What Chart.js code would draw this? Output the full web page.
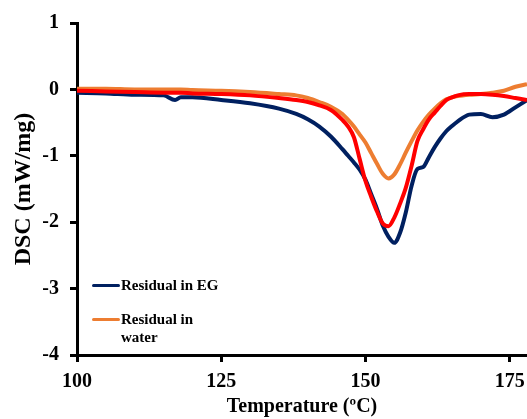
<!DOCTYPE html>
<html>
<head>
<meta charset="utf-8">
<script src="https://cdn.jsdelivr.net/npm/chart.js@4/dist/chart.umd.min.js"></script>
<style>
  html, body { margin: 0; padding: 0; background: #fff; }
  .wrap { position: relative; width: 527px; height: 419px; }
  .legend { position: absolute; left: 92px; top: 276px; margin: 0; padding: 0; list-style: none;
    font: bold 15px "Liberation Serif", serif; color: #000; }
  .legend li { display: flex; align-items: flex-start; margin-bottom: 16px; line-height: 18px; }
  .legend__color { display: inline-block; width: 28px; height: 3px; border-radius: 2px; margin-top: 8px; margin-right: 1px; }
</style>
</head>
<body>
<div class="wrap">
  <canvas id="myChart" width="527" height="419"></canvas>
  <ul class="legend" id="chart_legend"></ul>
</div>
<script>
const temperature = [100, 105, 110, 115, 117, 118, 120, 125, 130, 135, 138, 140, 142, 144, 146, 147, 148, 149,
  150, 151, 152, 153, 154, 155, 156, 157, 158, 159, 160, 161, 162, 163, 164, 165, 166, 168, 170, 172, 174, 176, 178];

const residualEG = [-0.05, -0.06, -0.08, -0.09, -0.16, -0.12, -0.12, -0.16, -0.21, -0.29, -0.37, -0.45, -0.56, -0.71,
  -0.90, -1.00, -1.10, -1.21, -1.36, -1.58, -1.80, -2.05, -2.22, -2.31, -2.16, -1.85, -1.45, -1.20, -1.17, -1.02,
  -0.87, -0.74, -0.63, -0.55, -0.48, -0.38, -0.37, -0.42, -0.38, -0.27, -0.16];

const residualWater = [0.01, 0.01, 0.0, 0.0, 0.0, 0.0, -0.01, -0.02, -0.04, -0.07, -0.09, -0.13, -0.19, -0.26,
  -0.37, -0.46, -0.56, -0.68, -0.80, -0.96, -1.12, -1.27, -1.34, -1.28, -1.13, -0.95, -0.78, -0.62, -0.49, -0.38,
  -0.29, -0.21, -0.15, -0.12, -0.10, -0.08, -0.07, -0.05, -0.02, 0.04, 0.08];

const residualRed = [-0.02, -0.03, -0.04, -0.05, -0.05, -0.05, -0.06, -0.07, -0.09, -0.13, -0.16, -0.19, -0.24, -0.31,
  -0.46, -0.56, -0.72, -1.05, -1.38, -1.62, -1.84, -2.02, -2.06, -1.93, -1.72, -1.48, -1.15, -0.78, -0.60, -0.45,
  -0.35, -0.25, -0.16, -0.12, -0.09, -0.07, -0.07, -0.08, -0.10, -0.13, -0.16];

const xTicks = [100, 125, 150, 175];
const yTicks = [1, 0, -1, -2, -3, -4];

const legendLabels = ["Residual in EG", "Residual in<br>water"];
const legendColors = ["#002060", "#ED7D31"];

const toPoints = (ys) => temperature.map((t, i) => ({ x: t, y: ys[i] }));

const serif = "'Liberation Serif', serif";
const tickFont = { family: serif, weight: "bold", size: 20 };

function initChart() {
  const ctx = document.getElementById("myChart").getContext("2d");

  const line = (label, data, color, order) => ({
    label,
    data: toPoints(data),
    borderColor: color,
    backgroundColor: color,
    borderWidth: 4,
    pointRadius: 0,
    cubicInterpolationMode: "monotone",
    order,
  });

  new Chart(ctx, {
    type: "line",
    data: {
      datasets: [
        line("Residual in EG", residualEG, "#002060", 3),
        line("Residual in water", residualWater, "#ED7D31", 2),
        line("Residual", residualRed, "#FF0000", 1),
      ],
    },
    options: {
      responsive: false,
      animation: false,
      layout: { padding: { top: 22, right: 0, left: 0, bottom: 0 } },
      plugins: {
        legend: { display: false },
        tooltip: { enabled: false },
      },
      scales: {
        x: {
          type: "linear",
          min: 100,
          max: 178,
          afterFit: (scale) => {
            scale.height = 64;
            scale.paddingLeft = 0;
            scale.paddingRight = 0;
          },
          afterBuildTicks: (scale) => { scale.ticks = xTicks.map((v) => ({ value: v })); },
          ticks: { color: "#000", font: tickFont, padding: 8, maxRotation: 0 },
          grid: { drawOnChartArea: false, drawTicks: true, tickLength: 7, color: "#000", lineWidth: 3 },
          border: { color: "#000", width: 3 },
          title: { display: true, text: "Temperature (ºC)", color: "#000", font: { family: serif, weight: "bold", size: 20 }, padding: { top: 0, bottom: 0 } },
        },
        y: {
          min: -4,
          max: 1,
          afterFit: (scale) => { scale.width = 77; },
          afterBuildTicks: (scale) => { scale.ticks = yTicks.map((v) => ({ value: v })); },
          ticks: { color: "#000", font: tickFont, padding: 11 },
          grid: { drawOnChartArea: false, drawTicks: true, tickLength: 7, color: "#000", lineWidth: 3 },
          border: { color: "#000", width: 3 },
          title: { display: true, text: "DSC (mW/mg)", color: "#000", font: { family: serif, weight: "bold", size: 24 }, padding: { top: 9, bottom: 0 } },
        },
      },
    },
  });

  const legendContainer = document.getElementById("chart_legend");
  legendContainer.innerHTML = "";
  legendLabels.forEach((label, index) => {
    const li = document.createElement("li");
    li.innerHTML = `<span class="legend__color" style="background-color: ${legendColors[index]}"></span><span>${label}</span>`;
    legendContainer.appendChild(li);
  });
}

initChart();
</script>
</body>
</html>
